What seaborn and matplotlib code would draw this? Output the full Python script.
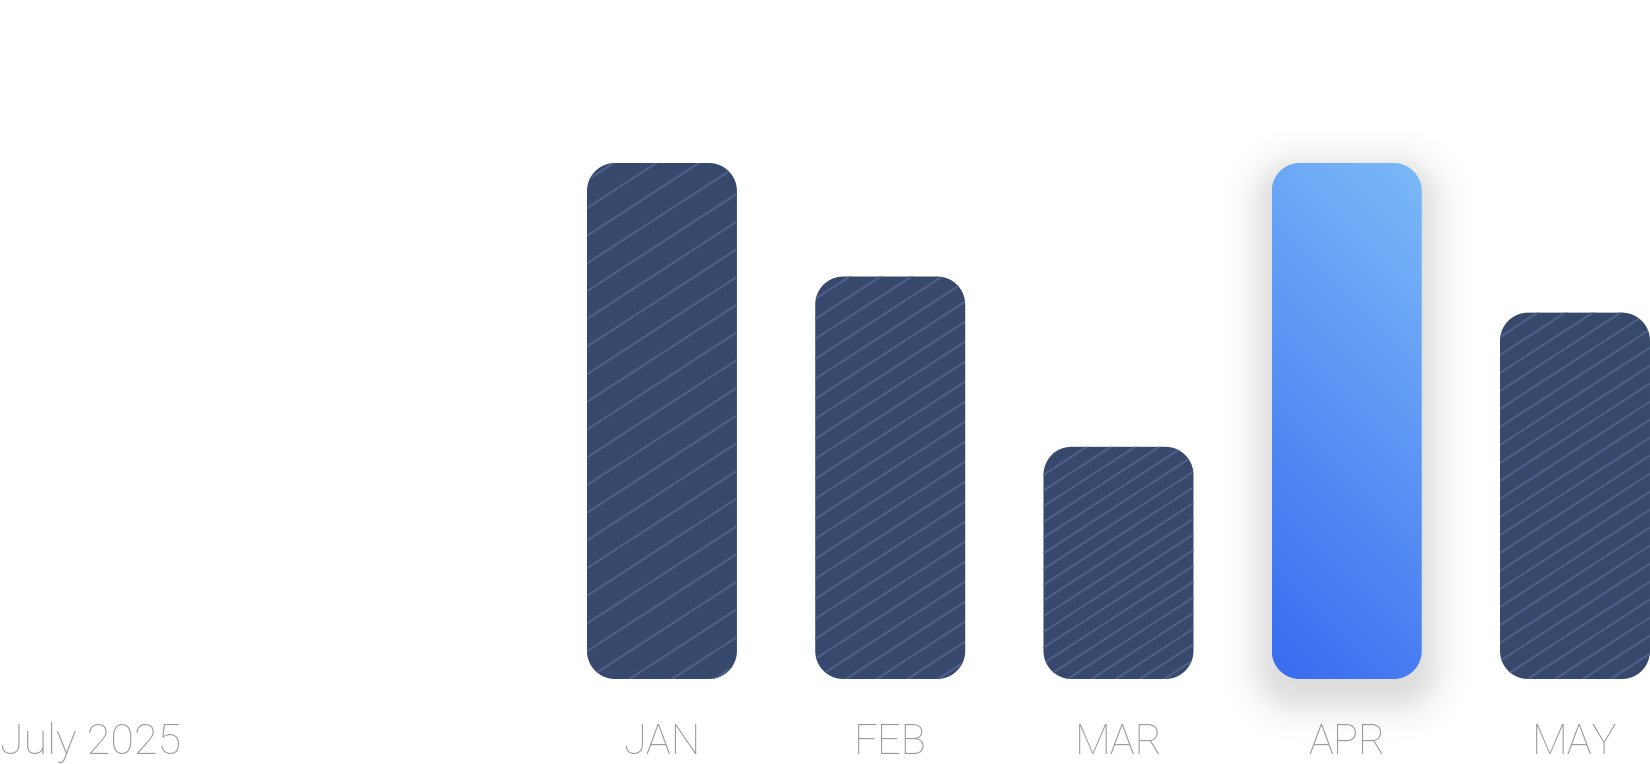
import numpy as np
import matplotlib
matplotlib.use("Agg")
import matplotlib.pyplot as plt
import matplotlib.transforms as mtransforms
from matplotlib.patches import Polygon
from matplotlib.collections import LineCollection
from matplotlib.colors import to_rgb
import seaborn as sns

# data
months = ["JAN", "FEB", "MAR", "APR", "MAY"]
values = [100, 78, 45, 100, 71]
highlight = "APR"
period_label = "July 2025"

# style
NAVY = "#36486b"
HATCH = "#4e5f88"
GRAD_LOW = "#386bf0"
GRAD_HIGH = "#7bbaf8"
TEXT = "#9a9a9a"
hatch_gap_px = [27.7, 20.0, 15.7, 0, 18.0]
RADIUS_PX = 28

W, H, DPI = 1650, 764, 100
BOTTOM_PX = 85

sns.set_style("white")
plt.rcParams["font.family"] = ["Roboto", "DejaVu Sans"]

fig = plt.figure(figsize=(W / DPI, H / DPI), dpi=DPI)
ax = fig.add_axes([0, BOTTOM_PX / H, 1, 1 - BOTTOM_PX / H])

sns.barplot(x=months, y=values, ax=ax, width=0.657, color=NAVY,
            saturation=1, errorbar=None)

xlim = (-2.90, 4.3286)
ylim = (0, max(values) * (H - BOTTOM_PX) / 516)
px_x = W / (xlim[1] - xlim[0])
px_y = (H - BOTTOM_PX) / (ylim[1] - ylim[0])


def rounded_rect(x0, y0, w, h):
    # rounded rectangle with circular corners in pixel space
    rx, ry = RADIUS_PX / px_x, RADIUS_PX / px_y
    pts = []
    corners = [(x0 + w - rx, y0 + h - ry, 0), (x0 + rx, y0 + h - ry, 90),
               (x0 + rx, y0 + ry, 180), (x0 + w - rx, y0 + ry, 270)]
    for cx, cy, a0 in corners:
        a = np.radians(np.linspace(a0, a0 + 90, 20))
        pts += list(zip(cx + rx * np.cos(a), cy + ry * np.sin(a)))
    return pts


bars = list(ax.patches)
for i, p in enumerate(bars):
    x0, y0, w, h = p.get_x(), p.get_y(), p.get_width(), p.get_height()
    p.remove()
    w_px, h_px = w * px_x, h * px_y
    is_hl = months[i] == highlight
    rr = Polygon(rounded_rect(x0, y0, w, h), closed=True,
                 facecolor="none" if is_hl else NAVY,
                 edgecolor="none", zorder=2)
    ax.add_patch(rr)

    if is_hl:
        # soft drop shadow
        m = 80
        gx = np.linspace(-m, w_px + m, 300)
        gy = np.linspace(-m - 20, h_px + m, 700)
        X, Y = np.meshgrid(gx, gy)
        cx, cy = w_px / 2, h_px / 2 - 14
        qx = np.abs(X - cx) - (w_px / 2 - RADIUS_PX)
        qy = np.abs(Y - cy) - (h_px / 2 - RADIUS_PX)
        d = (np.hypot(np.maximum(qx, 0), np.maximum(qy, 0))
             + np.minimum(np.maximum(qx, qy), 0) - RADIUS_PX)
        alpha = 0.13 * np.exp(-0.5 * (np.maximum(d + 8, 0) / 22.0) ** 2)
        sh = np.zeros(X.shape + (4,))
        sh[..., 3] = alpha
        ax.imshow(sh, extent=(x0 + gx[0] / px_x, x0 + gx[-1] / px_x,
                              y0 + gy[0] / px_y, y0 + gy[-1] / px_y),
                  origin="lower", aspect="auto", interpolation="bilinear",
                  zorder=1, clip_on=False)

        # diagonal gradient fill
        gx = np.linspace(0, w_px, 150)
        gy = np.linspace(0, h_px, 500)
        X, Y = np.meshgrid(gx, gy)
        t = ((X + Y) / (w_px + h_px))[..., None]
        img = np.array(to_rgb(GRAD_LOW)) * (1 - t) + np.array(to_rgb(GRAD_HIGH)) * t
        im = ax.imshow(img, extent=(x0, x0 + w, y0, y0 + h), origin="lower",
                       aspect="auto", interpolation="bilinear", zorder=3)
        im.set_clip_path(rr)
    else:
        gap = hatch_gap_px[i]
        slope = 0.65
        segs = []
        k0 = -int(np.ceil(slope * w_px / gap)) - 1
        k1 = int(np.ceil(h_px / gap)) + 1
        for k in range(k0, k1):
            ya, yb = k * gap, k * gap + slope * w_px
            segs.append([(x0, y0 + ya / px_y), (x0 + w, y0 + yb / px_y)])
        lc = LineCollection(segs, colors=HATCH, linewidths=1.6, zorder=3)
        ax.add_collection(lc)
        lc.set_clip_path(rr)

ax.set_xlim(*xlim)
ax.set_ylim(*ylim)
ax.axis("off")

trans = mtransforms.blended_transform_factory(ax.transData, fig.transFigure)
for i, m in enumerate(months):
    ax.text(i, 10 / H, m, transform=trans, ha="center", va="baseline",
            fontsize=30, fontweight="light", color=TEXT, clip_on=False)

fig.text(0.0, 10 / H, period_label, ha="left", va="baseline",
         fontsize=31, fontweight="light", color=TEXT)

fig.savefig("out.png", dpi=DPI)
